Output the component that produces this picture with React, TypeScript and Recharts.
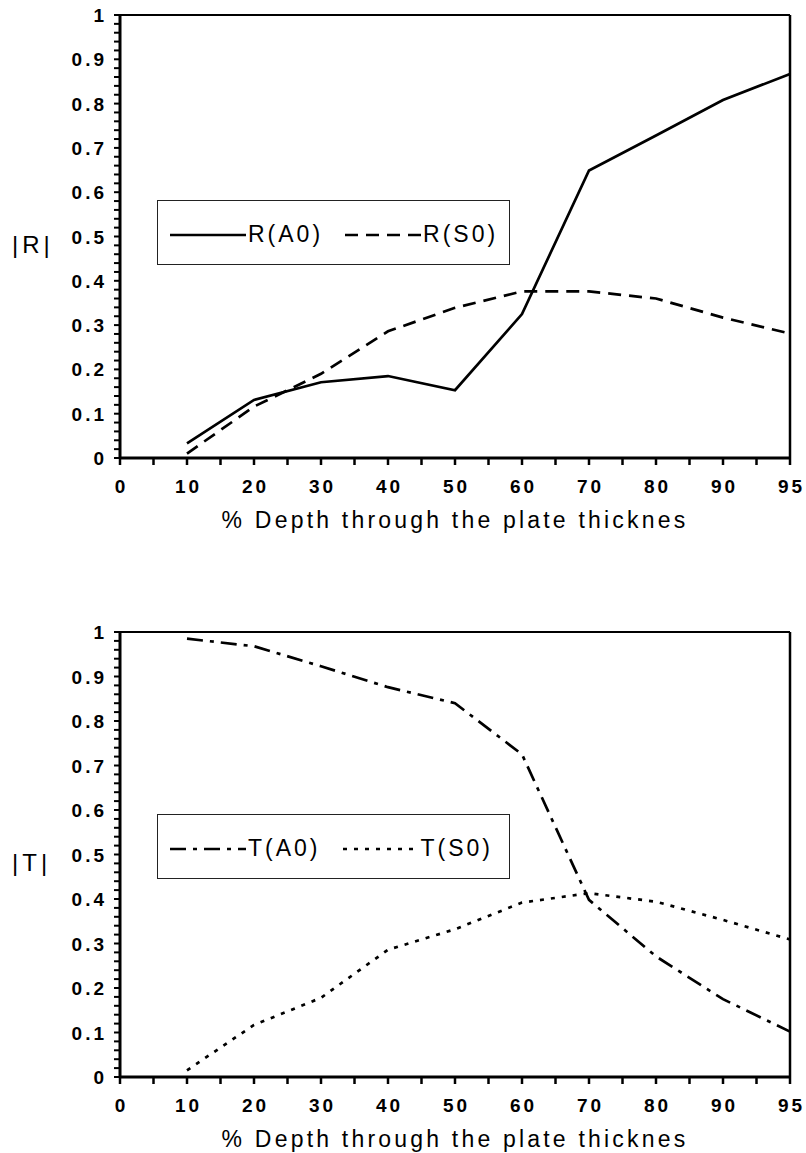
import { Legend, Line, LineChart, ReferenceLine, XAxis, YAxis } from "recharts";

// x categories (% depth) and values
const depths = ["0", "10", "20", "30", "40", "50", "60", "70", "80", "90", "95"];
const rA0 = [null, 0.033, 0.131, 0.171, 0.185, 0.153, 0.325, 0.649, 0.728, 0.808, 0.867];
const rS0 = [null, 0.01, 0.116, 0.19, 0.286, 0.339, 0.376, 0.376, 0.36, 0.317, 0.281];
const tA0 = [null, 0.985, 0.968, 0.923, 0.876, 0.84, 0.725, 0.398, 0.271, 0.175, 0.102];
const tS0 = [null, 0.015, 0.117, 0.178, 0.286, 0.332, 0.392, 0.413, 0.394, 0.353, 0.309];

// minor ticks every 0.02, labels on every 0.1
const yTicks = Array.from({ length: 51 }, (_, i) => Math.round(i * 2) / 100);
const yLabels = ["0", "0.1", "0.2", "0.3", "0.4", "0.5", "0.6", "0.7", "0.8", "0.9", "1"];

const xTitle = "% Depth through the plate thicknes";

const W = 806;
const PLOT_LEFT = 120;
const PLOT_RIGHT = 790;
const X_AXIS_H = 75;
const FONT = "'Liberation Sans', Arial, Helvetica, sans-serif";

interface SeriesDef {
	key: string;
	name: string;
	values: (number | null)[];
	dash?: string;
}

interface PanelProps {
	top: number;
	height: number;
	plotTop: number;
	plotBottom: number;
	yTitle: string;
	series: SeriesDef[];
	legendTop: number;
}

function Panel({ top, height, plotTop, plotBottom, yTitle, series, legendTop }: PanelProps) {
	const rows = depths.map((d, i) => {
		const row: Record<string, string | number | null> = { x: d };
		for (const s of series) row[s.key] = s.values[i];
		return row;
	});
	const step = (PLOT_RIGHT - PLOT_LEFT) / (depths.length - 1);

	const xTick = (props: any) => {
		const { x, index, payload } = props;
		return (
			<g>
				<line x1={x} x2={x} y1={plotBottom} y2={plotBottom + 7} stroke="#000" strokeWidth={2.5} />
				{index > 0 && (
					<line
						x1={x - step / 2}
						x2={x - step / 2}
						y1={plotBottom}
						y2={plotBottom + 7}
						stroke="#000"
						strokeWidth={2.5}
					/>
				)}
				<text
					x={x + 1.5}
					y={plotBottom + 35}
					textAnchor="middle"
					fontFamily={FONT}
					fontWeight="bold"
					fontSize={19}
					letterSpacing={3}
					fill="#000"
				>
					{payload.value}
				</text>
			</g>
		);
	};

	const yTick = (props: any) => {
		const { y, payload, index } = props;
		const major = index % 5 === 0;
		return (
			<g>
				<line x1={PLOT_LEFT - 6} x2={PLOT_LEFT} y1={y} y2={y} stroke="#000" strokeWidth={2} />
				{major && (
					<text
						x={PLOT_LEFT - 13}
						y={y + 7}
						textAnchor="end"
						fontFamily={FONT}
						fontWeight="bold"
						fontSize={19}
						letterSpacing={3}
						fill="#000"
					>
						{yLabels[index / 5] ?? payload.value}
					</text>
				)}
			</g>
		);
	};

	const legendContent = () => (
		<div
			style={{
				boxSizing: "border-box",
				width: 353,
				height: 65,
				border: "1.5px solid #222",
				background: "#fff",
				display: "flex",
				alignItems: "center",
				paddingLeft: 12,
				paddingTop: 4,
				fontFamily: FONT,
				fontSize: 23,
				letterSpacing: 3,
				color: "#000",
			}}
		>
			{series.map((s, i) => (
				<div key={s.key} style={{ display: "flex", alignItems: "center", marginLeft: i > 0 ? 22 : 0 }}>
					<svg width={76} height={10}>
						<line x1={0} x2={76} y1={5} y2={5} stroke="#000" strokeWidth={2.7} strokeDasharray={s.dash} />
					</svg>
					<span style={{ marginLeft: 2 }}>{s.name}</span>
				</div>
			))}
		</div>
	);

	return (
		<div style={{ position: "absolute", left: 0, top, width: W, height }}>
			<LineChart
				width={W}
				height={height}
				data={rows}
				margin={{ top: plotTop, right: W - PLOT_RIGHT, bottom: height - plotBottom - X_AXIS_H, left: 0 }}
			>
				<XAxis
					dataKey="x"
					type="category"
					interval={0}
					height={X_AXIS_H}
					axisLine={{ stroke: "#000", strokeWidth: 3 }}
					tickLine={false}
					tick={xTick}
					label={{
						value: xTitle,
						position: "insideBottom",
						offset: 5,
						style: { fontFamily: FONT, fontSize: 23, letterSpacing: 3.2, fill: "#000" },
					}}
				/>
				<YAxis
					type="number"
					domain={[0, 1]}
					ticks={yTicks}
					interval={0}
					width={PLOT_LEFT}
					axisLine={{ stroke: "#000", strokeWidth: 3 }}
					tickLine={false}
					tick={yTick}
					label={{
						value: yTitle,
						position: "insideLeft",
						offset: 12,
						dy: 8,
						style: { fontFamily: FONT, fontSize: 24, letterSpacing: 4, fill: "#000" },
					}}
				/>
				<ReferenceLine y={1} stroke="#000" strokeWidth={2} />
				<ReferenceLine x="95" stroke="#000" strokeWidth={2.5} />
				{series.map((s) => (
					<Line
						key={s.key}
						dataKey={s.key}
						name={s.name}
						type="linear"
						stroke="#000"
						strokeWidth={2.7}
						strokeDasharray={s.dash}
						dot={false}
						activeDot={false}
						isAnimationActive={false}
					/>
				))}
				<Legend
					layout="horizontal"
					verticalAlign="middle"
					align="center"
					content={legendContent}
					wrapperStyle={{ position: "absolute", left: 157, top: legendTop, width: 353, height: 65 }}
				/>
			</LineChart>
		</div>
	);
}

export default function App() {
	return (
		<div style={{ position: "absolute", left: 0, top: 0, width: W, height: 1153, background: "#fff" }}>
			<Panel
				top={0}
				height={560}
				plotTop={15}
				plotBottom={458}
				yTitle="|R|"
				legendTop={200}
				series={[
					{ key: "rA0", name: "R(A0)", values: rA0 },
					{ key: "rS0", name: "R(S0)", values: rS0, dash: "13 8" },
				]}
			/>
			<Panel
				top={600}
				height={553}
				plotTop={32}
				plotBottom={477}
				yTitle="|T|"
				legendTop={214}
				series={[
					{ key: "tA0", name: "T(A0)", values: tA0, dash: "16 7 4 7" },
					{ key: "tS0", name: "T(S0)", values: tS0, dash: "4 7" },
				]}
			/>
		</div>
	);
}
